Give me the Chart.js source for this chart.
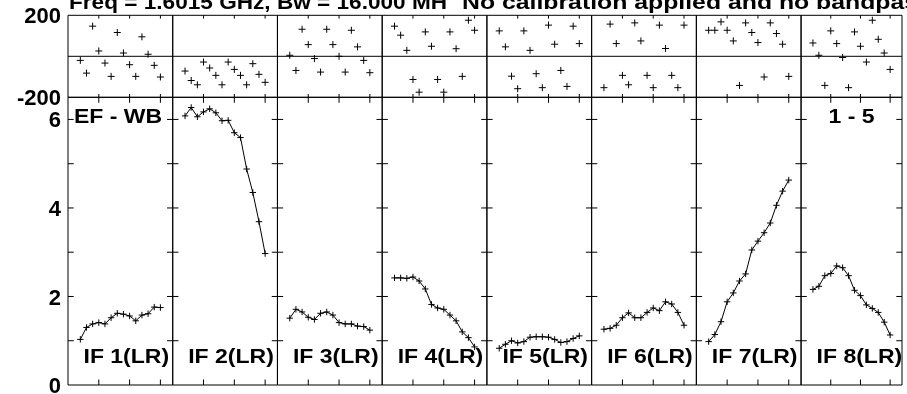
<!DOCTYPE html>
<html>
<head>
<meta charset="utf-8">
<script src="https://cdn.jsdelivr.net/npm/chart.js@4.4.1/dist/chart.umd.min.js"></script>
<style>
  html, body { margin: 0; padding: 0; background: #fff; overflow: hidden; }
  #plot { position: relative; width: 907px; height: 394px; overflow: hidden; background: #fff; }
  #plot canvas { position: absolute; left: 0; top: 0; }
</style>
</head>
<body>
<div id="plot"></div>
<script>
// POSSM-style spectrum: phase (top row) and amplitude (bottom row) per IF
const titleLeft = 'Freq = 1.6015 GHz, Bw = 16.000 MH';
const titleRight = 'No calibration applied and no bandpass';
const baselineLabel = 'EF - WB';
const timeLabel = '1 - 5';
const ifLabels = ['IF 1(LR)', 'IF 2(LR)', 'IF 3(LR)', 'IF 4(LR)', 'IF 5(LR)', 'IF 6(LR)', 'IF 7(LR)', 'IF 8(LR)'];

const channels = [2, 3, 4, 5, 6, 7, 8, 9, 10, 11, 12, 13, 14, 15];
const chanTicks = [5, 10, 15];
const phaseLabelTicks = [-200, 200];
const ampLabelTicks = [0, 2, 4, 6];
const ampMinorTicks = [1, 2, 3, 4, 5, 6];

// phase in degrees
const phaseIF1 = [-20, -82, 147, 26, -33, -98, 116, 16, -41, -98, 95, 10, -44, -101];
const phaseIF2 = [-72, -118, -139, -28, -57, -93, -139, -28, -64, -93, -139, -36, -88, -127];
const phaseIF3 = [5, -69, 132, 57, -11, -77, 132, 57, 0, -77, 127, 46, -20, -80];
const phaseIF4 = [147, 103, 29, -113, -175, 119, 49, -113, -175, 119, 37, -98, 176, 127];
const phaseIF5 = [124, 46, -97, -158, 124, 29, -85, -153, 152, 59, -69, -147, 147, 62];
const phaseIF6 = [-153, 157, 62, -93, -139, 163, 75, -93, -153, 152, 38, -93, -153, 152];
const phaseIF7 = [127, 127, 168, 127, 75, -142, 163, 116, 67, -101, 163, 111, 59, -98];
const phaseIF8 = [65, 5, -142, 124, 62, -6, -153, 119, 49, -28, 176, 83, 16, -64];

// amplitude
const ampIF1 = [1.03, 1.30, 1.38, 1.41, 1.38, 1.52, 1.62, 1.60, 1.56, 1.45, 1.58, 1.61, 1.76, 1.75];
const ampIF2 = [6.08, 6.27, 6.06, 6.17, 6.24, 6.15, 5.97, 5.98, 5.70, 5.59, 4.88, 4.35, 3.69, 2.97];
const ampIF3 = [1.51, 1.71, 1.65, 1.53, 1.48, 1.62, 1.65, 1.58, 1.41, 1.38, 1.38, 1.33, 1.32, 1.24];
const ampIF4 = [2.42, 2.42, 2.41, 2.44, 2.35, 2.17, 1.82, 1.74, 1.71, 1.58, 1.45, 1.20, 1.07, 0.86];
const ampIF5 = [0.83, 0.92, 1.00, 0.95, 0.98, 1.08, 1.09, 1.09, 1.08, 1.03, 0.96, 0.98, 1.05, 1.11];
const ampIF6 = [1.26, 1.28, 1.35, 1.52, 1.63, 1.52, 1.52, 1.64, 1.74, 1.68, 1.88, 1.83, 1.64, 1.35];
const ampIF7 = [0.98, 1.14, 1.43, 1.88, 2.08, 2.35, 2.51, 3.05, 3.25, 3.44, 3.66, 4.06, 4.38, 4.63];
const ampIF8 = [2.16, 2.23, 2.47, 2.52, 2.69, 2.65, 2.47, 2.14, 2.02, 1.81, 1.73, 1.64, 1.42, 1.13];

const phases = [phaseIF1, phaseIF2, phaseIF3, phaseIF4, phaseIF5, phaseIF6, phaseIF7, phaseIF8];
const amps = [ampIF1, ampIF2, ampIF3, ampIF4, ampIF5, ampIF6, ampIF7, ampIF8];

// page geometry
const W = 907, H = 420;
const plotLeft = 68, plotRight = 905.8;
const panelW = (plotRight - plotLeft) / 8;
const phaseTop = 15.3, phaseBottom = 97.3, ampBottom = 385;
const FONT = '"Liberation Sans", Arial, Helvetica, sans-serif';
const textStretch = 1.15;

function drawText(ctx, text, x, y, align, stretch) {
  const sx = stretch || textStretch;
  ctx.save();
  ctx.font = 'bold 20px ' + FONT;
  ctx.fillStyle = '#000';
  ctx.textBaseline = 'alphabetic';
  ctx.textAlign = 'left';
  const w = ctx.measureText(text).width * sx;
  ctx.translate(align === 'right' ? x - w : x, y);
  ctx.scale(sx, 1);
  ctx.fillText(text, 0, 0);
  ctx.restore();
}

// box, inward tick marks and panel annotations
const framePlugin = {
  id: 'frame',
  afterDatasetsDraw(chart, args, opts) {
    const {ctx, chartArea: a} = chart;
    const x = chart.scales.x, y = chart.scales.y;
    ctx.save();
    ctx.strokeStyle = '#000';
    ctx.lineWidth = 1;
    ctx.beginPath();
    ctx.rect(a.left, a.top, a.right - a.left, a.bottom - a.top);
    chanTicks.forEach(c => {
      const px = x.getPixelForValue(c);
      ctx.moveTo(px, a.top); ctx.lineTo(px, a.top + opts.xTick);
      ctx.moveTo(px, a.bottom); ctx.lineTo(px, a.bottom - opts.xTick);
    });
    (opts.yTicks || []).forEach(v => {
      const py = y.getPixelForValue(v);
      ctx.moveTo(a.left, py); ctx.lineTo(a.left + opts.yTick, py);
      ctx.moveTo(a.right, py); ctx.lineTo(a.right - opts.yTick, py);
    });
    if (opts.zeroLine) {
      const py = y.getPixelForValue(0);
      ctx.moveTo(a.left, py); ctx.lineTo(a.right, py);
    }
    ctx.stroke();
    ctx.restore();
    (opts.texts || []).forEach(t => {
      const tx = t.align === 'right' ? a.right - t.dx : a.left + t.dx;
      const ty = t.fromBottom ? a.bottom - t.dy : a.top + t.dy;
      drawText(ctx, t.text, tx, ty, t.align);
    });
    (opts.free || []).forEach(t => drawText(ctx, t.text, t.x, t.y, 'left', t.stretch));
  }
};

function yAxis(i, min, max, labelTicks) {
  const axis = {
    min: min,
    max: max,
    display: i === 0,
    afterBuildTicks: s => { s.ticks = labelTicks.map(v => ({value: v})); },
    ticks: {
      color: '#000',
      font: {family: FONT, size: 22, weight: 'bold'},
      padding: 0,
      labelOffset: 2,
      autoSkip: false
    },
    grid: {drawOnChartArea: false, drawTicks: true, tickLength: 7, color: 'rgba(0,0,0,0)'},
    border: {display: false}
  };
  if (i === 0) axis.afterFit = s => { s.width = plotLeft; };
  return axis;
}

function makeChart(i, kind) {
  const canvas = document.createElement('canvas');
  canvas.width = W;
  canvas.height = H;
  document.getElementById('plot').appendChild(canvas);

  const left = plotLeft + i * panelW;
  const right = left + panelW;
  const isPhase = kind === 'phase';
  const values = isPhase ? phases[i] : amps[i];

  const texts = [];
  const free = [];
  if (!isPhase) {
    texts.push({text: ifLabels[i], dx: 15.5, dy: 21.7, fromBottom: true});
    if (i === 0) texts.push({text: baselineLabel, dx: 6, dy: 26});
    if (i === 7) texts.push({text: timeLabel, dx: 27.4, dy: 26, align: 'right'});
  } else if (i === 0) {
    free.push({text: titleLeft, x: 69, y: 9, stretch: 1.13});
    free.push({text: titleRight, x: 462, y: 9, stretch: 1.24});
  }

  return new Chart(canvas, {
    type: 'scatter',
    data: {
      datasets: [{
        data: channels.map((c, k) => ({x: c, y: values[k]})),
        showLine: !isPhase,
        borderColor: '#000',
        borderWidth: 1,
        pointStyle: 'cross',
        pointRadius: isPhase ? 3.5 : 3.2,
        pointBorderColor: '#000',
        pointBorderWidth: 1,
        pointBackgroundColor: '#000'
      }]
    },
    options: {
      responsive: false,
      animation: false,
      events: [],
      layout: {
        padding: {
          left: i === 0 ? 0 : left,
          right: W - right,
          top: isPhase ? phaseTop : phaseBottom,
          bottom: H - (isPhase ? phaseBottom : ampBottom)
        }
      },
      scales: {
        x: {type: 'linear', min: 0, max: 17, display: false},
        y: isPhase ? yAxis(i, -200, 200, phaseLabelTicks) : yAxis(i, 0, 6.5, ampLabelTicks)
      },
      plugins: {
        legend: {display: false},
        tooltip: {enabled: false},
        frame: {
          xTick: isPhase ? 3.3 : 5.5,
          yTick: 5.7,
          yTicks: isPhase ? [] : ampMinorTicks,
          zeroLine: isPhase,
          texts: texts,
          free: free
        }
      }
    },
    plugins: [framePlugin]
  });
}

for (let i = 0; i < 8; i++) {
  makeChart(i, 'phase');
  makeChart(i, 'amp');
}
</script>
</body>
</html>
